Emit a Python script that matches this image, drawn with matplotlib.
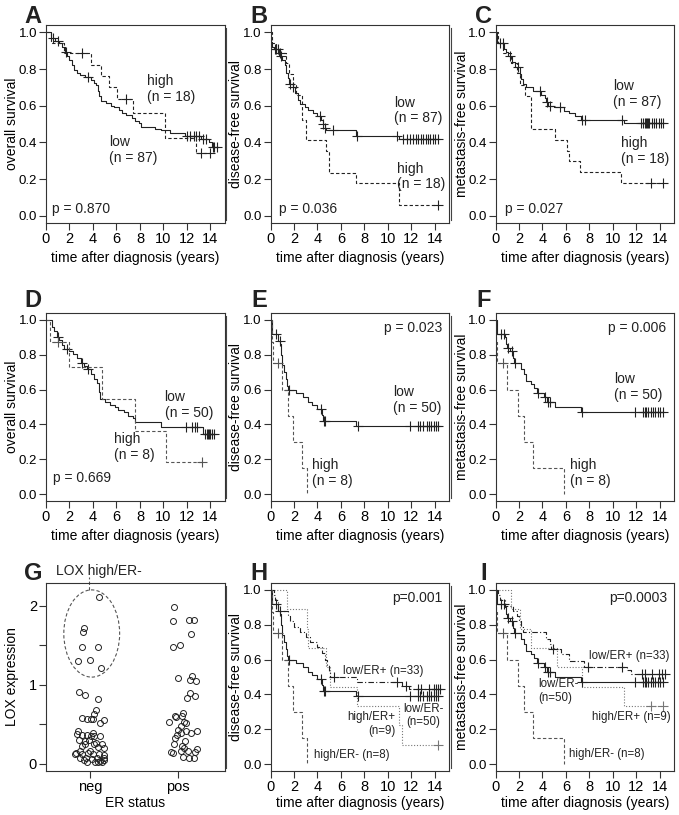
import matplotlib
matplotlib.use("Agg")
import matplotlib.pyplot as plt
import numpy as np
from matplotlib.patches import Ellipse
from matplotlib.lines import Line2D

plt.rcParams['font.family'] = ['Liberation Sans', 'DejaVu Sans']
plt.rcParams['text.color'] = '#222222'

# ---------------- data (years / survival fraction) ----------------
# A  overall survival, all patients
A_low_t = [0.4, 0.8, 1.1, 1.4, 1.6, 1.8, 2.0, 2.2, 2.4, 2.6, 2.9, 3.3, 3.8, 4.1, 4.3, 4.45, 4.55, 4.65,
           5.1, 5.5, 5.8, 6.2, 6.5, 6.8, 7.3, 7.6, 7.9, 8.1, 9.3, 9.8, 10.6, 11.8, 13.2, 13.9, 14.1]
A_low_s = [0.97, 0.955, 0.94, 0.92, 0.89, 0.87, 0.85, 0.82, 0.795, 0.78, 0.768, 0.755, 0.74, 0.725, 0.71, 0.68,
           0.655, 0.625, 0.612, 0.60, 0.59, 0.576, 0.562, 0.548, 0.53, 0.518, 0.506, 0.484, 0.475, 0.466, 0.453,
           0.435, 0.418, 0.40, 0.375]
A_low_c = [0.6, 1.0, 1.7, 3.6, 12.0, 12.3, 12.6, 12.8, 13.0, 13.4, 13.6, 14.2, 14.3, 14.6]
A_high_t = [0.45, 1.5, 3.8, 4.7, 5.35, 6.05, 7.45, 10.1, 12.8]
A_high_s = [0.944, 0.889, 0.823, 0.76, 0.70, 0.634, 0.561, 0.426, 0.342]
A_high_c = [3.1, 6.8, 13.2, 14.0]

# B  disease-free survival, all patients
B_low_t = [0.05, 0.15, 0.3, 0.7, 1.0, 1.2, 1.35, 1.5, 1.6, 1.9, 2.1, 2.3, 2.5, 2.9, 3.2, 3.6, 4.0, 4.3,
           4.45, 4.6, 4.7, 7.3, 10.9]
B_low_s = [0.95, 0.92, 0.91, 0.87, 0.85, 0.82, 0.78, 0.75, 0.72, 0.70, 0.67, 0.63, 0.61, 0.59, 0.575, 0.56,
           0.545, 0.52, 0.50, 0.48, 0.465, 0.437, 0.42]
B_low_c = [0.4, 0.5, 0.6, 0.9, 1.7, 1.9, 4.2, 4.5, 4.6, 5.3, 7.4, 10.8, 11.3, 11.6, 11.9, 12.1, 12.4, 12.6,
           12.8, 13.0, 13.2, 13.4, 13.6, 13.8, 14.0, 14.3]
B_high_t = [0.15, 0.45, 1.3, 1.6, 1.9, 2.2, 2.65, 3.0, 4.7, 4.95, 7.3, 10.95]
B_high_s = [0.944, 0.889, 0.83, 0.77, 0.71, 0.66, 0.52, 0.41, 0.35, 0.235, 0.176, 0.059]
B_high_c = [0.8, 14.3]

# C  metastasis-free survival, all patients
C_low_t = [0.1, 0.7, 0.9, 1.1, 1.4, 1.7, 2.1, 2.2, 2.35, 2.6, 3.2, 3.9, 4.2, 4.3, 4.5, 5.0, 5.8, 6.3, 6.8,
           7.3, 10.9]
C_low_s = [0.94, 0.91, 0.89, 0.87, 0.84, 0.81, 0.77, 0.745, 0.72, 0.70, 0.68, 0.66, 0.64, 0.62, 0.60, 0.59,
           0.57, 0.56, 0.545, 0.52, 0.505]
C_low_c = [0.4, 0.6, 1.2, 1.9, 3.8, 4.4, 4.6, 5.5, 7.4, 7.6, 10.8, 12.4, 12.6, 12.7, 12.8, 12.9, 13.0, 13.1,
           13.3, 13.5, 13.7, 13.9, 14.1, 14.3]
C_high_t = [0.2, 0.6, 1.3, 1.8, 2.1, 2.5, 3.0, 5.1, 6.05, 6.25, 7.2, 10.7]
C_high_s = [0.944, 0.889, 0.833, 0.778, 0.71, 0.65, 0.47, 0.41, 0.35, 0.30, 0.238, 0.18]
C_high_c = [13.2, 14.3]

# D  overall survival, ER negative
D_low_t = [0.5, 0.7, 0.9, 1.1, 1.4, 1.55, 1.95, 2.3, 2.6, 2.95, 3.2, 3.5, 3.8, 4.05, 4.35, 4.5, 4.6, 5.05,
           5.45, 5.85, 6.15, 6.6, 7.0, 7.4, 7.6, 9.8, 13.4]
D_low_s = [0.962, 0.937, 0.905, 0.883, 0.858, 0.833, 0.82, 0.807, 0.782, 0.754, 0.735, 0.716, 0.688, 0.659,
           0.636, 0.587, 0.545, 0.53, 0.511, 0.498, 0.485, 0.47, 0.451, 0.436, 0.413, 0.384, 0.347]
D_low_c = [1.05, 1.8, 3.1, 3.6, 11.9, 12.4, 12.7, 12.9, 13.5, 13.7, 13.8, 13.9, 14.0, 14.1, 14.3]
D_high_t = [0.35, 2.0, 4.75, 7.55, 10.2]
D_high_s = [0.875, 0.729, 0.547, 0.365, 0.182]
D_high_c = [1.0, 13.3]

# E  disease-free survival, ER negative
E_low_t = [0.1, 0.65, 0.8, 0.9, 1.0, 1.15, 1.3, 1.4, 1.5, 2.2, 2.8, 3.2, 3.5, 4.0, 4.4, 4.5, 7.3]
E_low_s = [0.92, 0.88, 0.86, 0.80, 0.74, 0.70, 0.66, 0.62, 0.60, 0.58, 0.56, 0.53, 0.51, 0.49, 0.455, 0.42,
           0.39]
E_low_c = [0.5, 0.78, 1.56, 4.26, 4.55, 4.6, 7.45, 11.9, 12.6, 12.7, 13.0, 13.3, 13.5, 13.7, 13.9, 14.1,
           14.3]
E_high_t = [0.1, 0.25, 0.97, 1.48, 1.9, 2.65, 3.15]
E_high_s = [0.875, 0.75, 0.60, 0.45, 0.30, 0.15, 0.0]
E_high_c = [0.65]

# F  metastasis-free survival, ER negative
F_low_t = [0.1, 0.8, 0.9, 1.0, 1.2, 1.5, 1.6, 2.2, 2.4, 2.6, 3.0, 3.3, 3.5, 4.1, 4.4, 5.1, 7.3]
F_low_s = [0.92, 0.90, 0.86, 0.84, 0.82, 0.78, 0.75, 0.72, 0.69, 0.65, 0.63, 0.61, 0.58, 0.56, 0.53, 0.50,
           0.47]
F_low_c = [0.5, 0.7, 1.1, 1.4, 1.7, 3.6, 4.2, 4.5, 4.6, 7.4, 11.9, 12.6, 12.7, 12.8, 13.0, 13.2, 13.4, 13.6,
           13.8, 14.0, 14.3]
F_high_t = [0.05, 0.1, 1.0, 1.9, 2.4, 3.2, 5.8]
F_high_s = [0.875, 0.75, 0.60, 0.45, 0.30, 0.15, 0.0]
F_high_c = [0.6]

# G  LOX expression by ER status (jittered category position, expression)
G_neg_x = [1.104, 0.931, 0.923, 0.904, 1.096, 0.862, 1.0, 1.123,
           0.873, 0.946, 1.088, 1.065, 1.046, 0.904, 0.969, 1.008, 1.038, 1.115, 1.154, 0.869, 0.854, 0.915,
           0.969, 1.008, 1.050, 0.877, 0.942, 0.992, 1.069, 1.135, 1.096, 1.162, 0.885, 0.846, 0.915, 0.981,
           1.038, 1.108, 1.154, 0.885, 0.954, 1.019, 1.077, 1.115, 1.165, 1.058, 0.931, 1.135, 1.0, 0.946,
           1.050, 0.904, 1.031, 1.115, 0.831, 0.969, 1.088, 1.162]
G_neg_y = [2.113, 1.714, 1.664, 1.483, 1.483, 1.303, 1.319, 1.210,
           0.908, 0.874, 0.815, 0.685, 0.634, 0.580, 0.567, 0.567, 0.567, 0.517, 0.550, 0.420, 0.378, 0.361,
           0.370, 0.349, 0.349, 0.298, 0.286, 0.298, 0.265, 0.252, 0.214, 0.202, 0.160, 0.139, 0.118, 0.139,
           0.118, 0.118, 0.109, 0.067, 0.076, 0.055, 0.076, 0.034, 0.042, 0.017, 0.042, 0.021, 0.160, 0.244,
           0.244, 0.223, 0.391, 0.357, 0.118, 0.025, 0.017, 0.067]
G_pos_x = [1.954, 1.942, 2.123, 2.185, 2.146, 1.946, 2.027, 2.0, 2.165, 2.138, 2.208, 2.142, 2.1, 2.192,
           2.058, 2.046, 1.962, 1.904, 2.069, 2.096, 2.038, 1.992, 2.038, 1.962, 2.096, 2.212, 2.154, 1.954,
           2.046, 2.069, 1.923, 1.942, 2.212, 2.192, 2.058, 2.127, 2.185, 2.031, 2.085, 2.0, 2.115, 1.981]
G_pos_y = [1.987, 1.807, 1.819, 1.819, 1.639, 1.479, 1.504, 1.092, 1.118, 1.063, 1.042, 0.895, 0.832, 0.853,
           0.643, 0.601, 0.601, 0.529, 0.525, 0.517, 0.475, 0.370, 0.391, 0.328, 0.412, 0.412, 0.391, 0.244,
           0.223, 0.202, 0.151, 0.130, 0.181, 0.151, 0.084, 0.076, 0.076, 0.160, 0.286, 0.433, 0.160, 0.588]
G_cats = ['neg', 'pos']

# H  disease-free survival by LOX / ER (low/ER- and high/ER- as in E)
H_lowpos_t = [0.3, 0.4, 0.6, 0.65, 1.5, 1.7, 2.0, 2.5, 3.0, 3.4, 4.0, 4.4, 4.6, 4.8, 5.0, 5.1, 7.4, 11.2, 11.8]
H_lowpos_s = [0.97, 0.94, 0.91, 0.88, 0.85, 0.82, 0.79, 0.76, 0.73, 0.70, 0.67, 0.64, 0.60, 0.57, 0.53, 0.50,
              0.47, 0.45, 0.43]
H_lowpos_c = [5.4, 10.8, 11.5, 12.6, 12.8, 13.5, 13.9, 14.1, 14.3, 14.4]
H_highpos_t = [1.4, 3.1, 3.2, 4.7, 5.1, 7.4, 10.9, 11.2]
H_highpos_s = [0.889, 0.778, 0.667, 0.556, 0.444, 0.333, 0.222, 0.111]
H_highpos_c = [14.3]

# I  metastasis-free survival by LOX / ER (low/ER- and high/ER- as in F)
I_lowpos_t = [0.2, 0.4, 0.8, 1.5, 1.8, 2.0, 2.2, 2.3, 4.3, 4.6, 4.7, 5.6, 6.3, 7.5, 11.2, 11.5]
I_lowpos_s = [0.97, 0.94, 0.91, 0.88, 0.85, 0.82, 0.79, 0.76, 0.72, 0.69, 0.66, 0.63, 0.59, 0.56, 0.54, 0.52]
I_lowpos_c = [4.9, 7.9, 10.8, 12.5, 12.7, 13.3, 13.9, 14.2, 14.4]
I_highpos_t = [1.3, 2.1, 3.0, 5.2, 7.4, 10.9]
I_highpos_s = [0.889, 0.778, 0.667, 0.556, 0.444, 0.333]
I_highpos_c = [13.2, 14.3]

# ---------------- styling ----------------
DASH = (0, (3, 2))
DOT = (0, (1, 1.6))
DASHDOT = (0, (5, 2, 1, 2))
INK = '#222222'
GREY = '#555555'
FS = 10       # labels / annotations
FS_SMALL = 8.3

W, H = 679, 815
fig = plt.figure(figsize=(W / 100, H / 100), dpi=100)

col_left = [46, 270.5, 495.5]
col_w = 178.5
rows = [(25, 223), (313, 501), (583, 771)]


def make_ax(r, c):
    top, bot = rows[r]
    return fig.add_axes([col_left[c] / W, 1 - bot / H, col_w / W, (bot - top) / H])


def style_ax(ax, r):
    for sp in ax.spines.values():
        sp.set_linewidth(0.8)
        sp.set_color('#333333')
    ax.tick_params(direction='out', length=5, width=0.8, color='#333333', pad=1.5)
    ax.tick_params(axis='x', labelsize=10.5)
    ax.tick_params(axis='y', labelsize=9.5)
    top, bot = rows[r]
    ax.yaxis.set_label_coords(-27 / col_w, 0.5)
    off = 28 if r < 2 else 25
    ax.xaxis.set_label_coords(0.5, -off / (bot - top))
    ax.xaxis.label.set_va('top')


def km(ax, t, s, cens, ls, color=INK):
    t = np.asarray(t, float)
    s = np.asarray(s, float)
    end = max([t[-1]] + list(cens))
    tt = np.concatenate([[0.0], t, [end]])
    ss = np.concatenate([[1.0], s, [s[-1]]])
    ax.step(tt, ss, where='post', ls=ls, color=color, lw=0.8)
    if len(cens):
        idx = np.searchsorted(tt, cens, side='right') - 1
        ax.plot(cens, ss[idx], '+', color=color, ms=7, mew=0.8, ls='none')


def km_axes(r, c, ylabel):
    ax = make_ax(r, c)
    ax.set_xlim(0, 15.2)
    ax.set_ylim(-0.04, 1.04)
    ax.set_xticks(range(0, 15, 2))
    ax.set_yticks([0, 0.2, 0.4, 0.6, 0.8, 1.0])
    ax.set_yticklabels(['0.0', '0.2', '0.4', '0.6', '0.8', '1.0'])
    ax.set_xlabel('time after diagnosis (years)', fontsize=FS)
    ax.set_ylabel(ylabel, fontsize=FS)
    style_ax(ax, r)
    return ax


def note(ax, x, y, s, **kw):
    kw.setdefault('fontsize', FS)
    kw.setdefault('va', 'top')
    kw.setdefault('linespacing', 1.15)
    ax.text(x, y, s, clip_on=False, **kw)


# A
ax = km_axes(0, 0, 'overall survival')
km(ax, A_low_t, A_low_s, A_low_c, '-')
km(ax, A_high_t, A_high_s, A_high_c, DASH)
note(ax, 8.56, 0.77, 'high\n(n = 18)')
note(ax, 5.4, 0.44, 'low\n(n = 87)')
note(ax, 0.55, 0.035, 'p = 0.870', va='center')

# B
ax = km_axes(0, 1, 'disease-free survival')
km(ax, B_low_t, B_low_s, B_low_c, '-')
km(ax, B_high_t, B_high_s, B_high_c, DASH)
note(ax, 10.5, 0.655, 'low\n(n = 87)')
note(ax, 10.8, 0.295, 'high\n(n = 18)')
note(ax, 0.7, 0.035, 'p = 0.036', va='center')

# C
ax = km_axes(0, 2, 'metastasis-free survival')
km(ax, C_low_t, C_low_s, C_low_c, '-')
km(ax, C_high_t, C_high_s, C_high_c, DASH)
note(ax, 10.0, 0.745, 'low\n(n = 87)')
note(ax, 10.7, 0.435, 'high\n(n = 18)')
note(ax, 0.83, 0.035, 'p = 0.027', va='center')

# D
ax = km_axes(1, 0, 'overall survival')
km(ax, D_low_t, D_low_s, D_low_c, '-')
km(ax, D_high_t, D_high_s, D_high_c, DASH, GREY)
note(ax, 10.1, 0.595, 'low\n(n = 50)')
note(ax, 5.8, 0.355, 'high\n(n = 8)')
note(ax, 0.56, 0.09, 'p = 0.669', va='center')

# E
ax = km_axes(1, 1, 'disease-free survival')
km(ax, E_low_t, E_low_s, E_low_c, '-')
km(ax, E_high_t, E_high_s, E_high_c, DASH, GREY)
note(ax, 14.62, 0.953, 'p = 0.023', va='center', ha='right')
note(ax, 10.4, 0.625, 'low\n(n = 50)')
note(ax, 3.5, 0.205, 'high\n(n = 8)')

# F
ax = km_axes(1, 2, 'metastasis-free survival')
km(ax, F_low_t, F_low_s, F_low_c, '-')
km(ax, F_high_t, F_high_s, F_high_c, DASH, GREY)
note(ax, 14.56, 0.953, 'p = 0.006', va='center', ha='right')
note(ax, 10.1, 0.70, 'low\n(n = 50)')
note(ax, 6.35, 0.205, 'high\n(n = 8)')

# G
ax = make_ax(2, 0)
ax.set_xlim(0.5, 2.53)
ax.set_ylim(-0.092, 2.29)
ax.plot(G_neg_x, G_neg_y, 'o', ms=4.3, mfc='none', mec=INK, mew=0.7, ls='none')
ax.plot(G_pos_x, G_pos_y, 'o', ms=4.3, mfc='none', mec=INK, mew=0.7, ls='none')
ax.set_xticks([1, 2])
ax.set_xticklabels(G_cats)
ax.set_yticks([0, 0.5, 1, 1.5, 2])
ax.set_yticklabels(['0', '', '1', '', '2'])
ax.set_xlabel('ER status', fontsize=FS)
ax.set_ylabel('LOX expression', fontsize=FS)
style_ax(ax, 2)
ax.tick_params(axis='y', labelsize=10.5)
ax.add_patch(Ellipse((1.02, 1.65), 0.635, 1.105, fill=False, ls=DASH, lw=0.8, ec=GREY))
ax.plot([0.99, 0.99], [2.2, 2.37], ls=DASH, lw=0.8, color=GREY, clip_on=False)
ax.text(1.10, 2.44, 'LOX high/ER-', fontsize=FS, ha='center', va='center', clip_on=False)

# H
ax = km_axes(2, 1, 'disease-free survival')
km(ax, H_highpos_t, H_highpos_s, H_highpos_c, DOT, '#777777')
km(ax, H_lowpos_t, H_lowpos_s, H_lowpos_c, DASHDOT)
km(ax, E_low_t, E_low_s, E_low_c, '-')
km(ax, E_high_t, E_high_s, E_high_c, DASH, GREY)
note(ax, 14.62, 0.953, 'p=0.001', va='center', ha='right')
note(ax, 6.16, 0.536, 'low/ER+ (n=33)', va='center', fontsize=FS_SMALL)
note(ax, 13.0, 0.28, 'low/ER-\n(n=50)', va='center', ha='center', fontsize=FS_SMALL)
note(ax, 10.67, 0.23, 'high/ER+\n(n=9)', va='center', ha='right', multialignment='right', fontsize=FS_SMALL)
note(ax, 3.7, 0.05, 'high/ER- (n=8)', va='center', fontsize=FS_SMALL)

# I
ax = km_axes(2, 2, 'metastasis-free survival')
km(ax, I_highpos_t, I_highpos_s, I_highpos_c, DOT, '#777777')
km(ax, I_lowpos_t, I_lowpos_s, I_lowpos_c, DASHDOT)
km(ax, F_low_t, F_low_s, F_low_c, '-')
km(ax, F_high_t, F_high_s, F_high_c, DASH, GREY)
note(ax, 14.62, 0.953, 'p=0.0003', va='center', ha='right')
note(ax, 8.0, 0.62, 'low/ER+ (n=33)', va='center', fontsize=FS_SMALL)
note(ax, 3.65, 0.42, 'low/ER-\n(n=50)', va='center', fontsize=FS_SMALL)
note(ax, 8.2, 0.27, 'high/ER+ (n=9)', va='center', fontsize=FS_SMALL)
note(ax, 6.27, 0.057, 'high/ER- (n=8)', va='center', fontsize=FS_SMALL)

# panel letters
letters = ['A', 'B', 'C', 'D', 'E', 'F', 'G', 'H', 'I']
letter_x = [33, 259, 484]
letter_base = [23, 307, 580]
for i, lab in enumerate(letters):
    r, c = divmod(i, 3)
    fig.text(letter_x[c] / W, 1 - letter_base[r] / H, lab, fontsize=17, fontweight='bold',
             ha='center', va='baseline', color=INK)

# thin separator lines left of columns 2 and 3
for xpx in [226, 450.5]:
    for top, bot in rows:
        fig.add_artist(Line2D([xpx / W, xpx / W], [1 - (top + 3) / H, 1 - (bot - 3) / H],
                              transform=fig.transFigure, color='#444444', lw=0.8))

fig.savefig('out.png', dpi=100)
